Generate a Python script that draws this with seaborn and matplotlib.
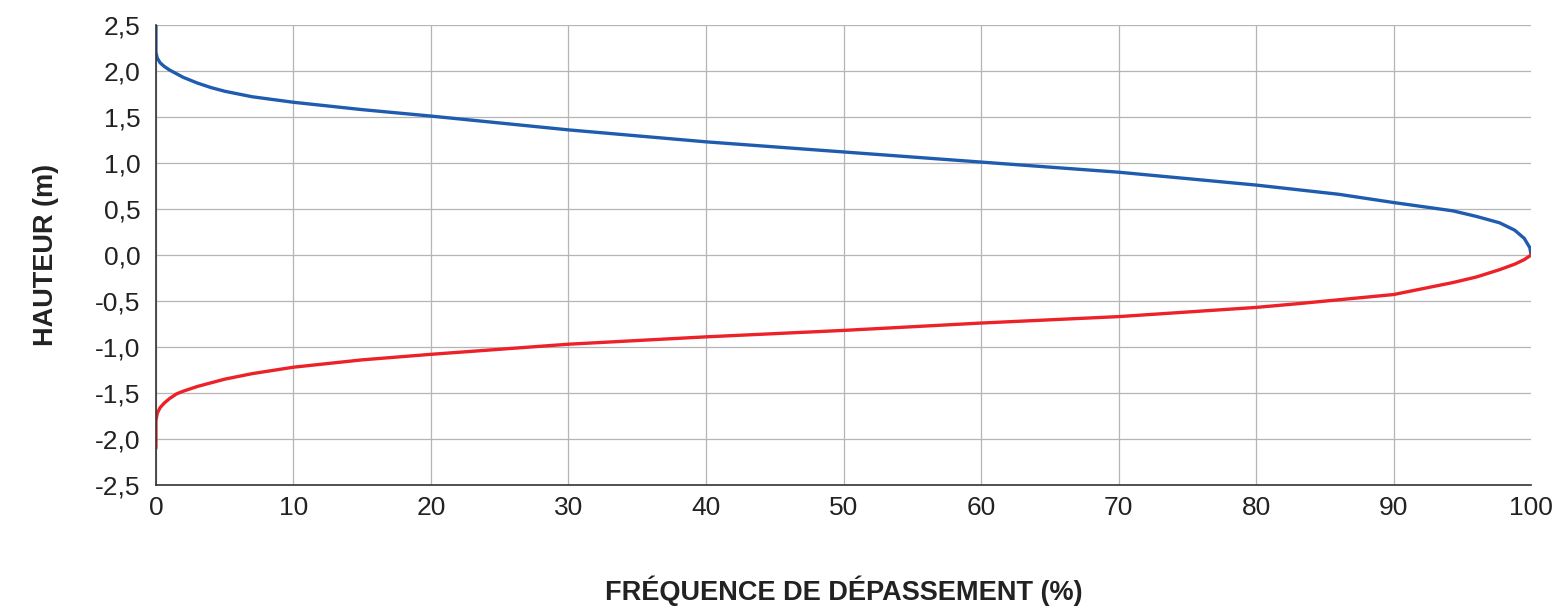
import numpy as np
import pandas as pd
import matplotlib
matplotlib.use("Agg")
import matplotlib.pyplot as plt
from matplotlib.ticker import FuncFormatter
import seaborn as sns

# courbe des hautes eaux (bleu) : frequence (%) / hauteur (m)
freq_haut = [0, 0, 0.1, 0.3, 0.6, 1, 1.5, 2, 3, 4, 5, 7, 10, 15, 20, 30, 40, 50, 60, 70, 80, 86, 90,
             94.3, 96, 97.7, 98.8, 99.5, 99.9, 100]
haut_haut = [2.5, 2.2, 2.14, 2.09, 2.05, 2.01, 1.97, 1.93, 1.87, 1.82, 1.78, 1.72, 1.66, 1.58, 1.51,
             1.36, 1.23, 1.12, 1.01, 0.9, 0.76, 0.66, 0.57, 0.48, 0.42, 0.35, 0.27, 0.18, 0.08, 0.0]

# courbe des basses eaux (rouge)
freq_bas = [0, 0, 0.1, 0.3, 0.6, 1, 1.5, 2, 3, 5, 7, 10, 15, 20, 30, 40, 50, 60, 70, 80, 83, 90,
            94.3, 96, 97.7, 98.8, 99.5, 100]
haut_bas = [-2.1, -1.8, -1.72, -1.66, -1.61, -1.56, -1.51, -1.48, -1.43, -1.35, -1.29, -1.22, -1.14,
            -1.08, -0.97, -0.89, -0.82, -0.74, -0.67, -0.57, -0.53, -0.43, -0.30, -0.24, -0.16, -0.10,
            -0.05, 0.0]

x_ticks = list(range(0, 101, 10))
y_ticks = [-2.5, -2.0, -1.5, -1.0, -0.5, 0.0, 0.5, 1.0, 1.5, 2.0, 2.5]

df_haut = pd.DataFrame({"freq": freq_haut, "h": haut_haut})
df_bas = pd.DataFrame({"freq": freq_bas, "h": haut_bas})

sns.set_theme(style="white")
plt.rcParams["font.family"] = ["Liberation Sans", "DejaVu Sans"]

fig = plt.figure(figsize=(15.64, 6.10), dpi=100)
ax = fig.add_axes([0.0997, 0.205, 0.8793, 0.754])

sns.lineplot(data=df_haut, x="freq", y="h", sort=False, estimator=None,
             color="#1f5cb0", linewidth=2.4, ax=ax)
sns.lineplot(data=df_bas, x="freq", y="h", sort=False, estimator=None,
             color="#ec2228", linewidth=2.4, ax=ax)

ax.set_xlim(0, 100)
ax.set_ylim(-2.5, 2.5)
ax.set_xticks(x_ticks)
ax.set_yticks(y_ticks)
ax.yaxis.set_major_formatter(FuncFormatter(lambda v, p: f"{v:.1f}".replace(".", ",")))
ax.grid(True, color="#b5b5b5", linewidth=0.9)
ax.get_xgridlines()[-1].set_visible(False)
ax.set_axisbelow(True)

for s in ["top", "right"]:
    ax.spines[s].set_visible(False)
for s in ["left", "bottom"]:
    ax.spines[s].set_color("#333333")
    ax.spines[s].set_linewidth(1.2)

ax.tick_params(axis="x", direction="inout", length=12, width=1.2, colors="#333333",
               labelsize=19, labelcolor="#222222", pad=2)
ax.tick_params(axis="y", direction="out", length=7, width=1.2, colors="#333333",
               labelsize=19, labelcolor="#222222", pad=4)

ax.set_xlabel("FRÉQUENCE DE DÉPASSEMENT (%)", fontsize=19.5, fontweight="bold",
              color="#222222", labelpad=40)
ax.set_ylabel("HAUTEUR (m)", fontsize=19.5, fontweight="bold", color="#222222", labelpad=26)

fig.savefig("out.png", dpi=100)
